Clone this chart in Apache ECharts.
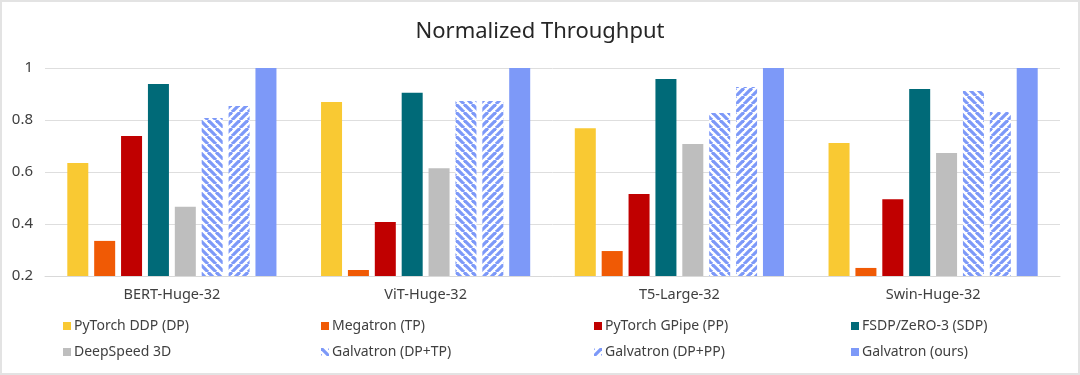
<!DOCTYPE html>
<html>
<head>
<meta charset="utf-8">
<script src="https://cdn.jsdelivr.net/npm/echarts@6/dist/echarts.min.js"></script>
<style>
  html, body { margin: 0; padding: 0; background: #fff; }
  #chart { width: 1080px; height: 375px; }
  #frame { position: absolute; left: 0; top: 0; width: 1076px; height: 371px; border: 2px solid #e3e3e3; pointer-events: none; }
</style>
</head>
<body>
<div id="chart"></div>
<div id="frame"></div>
<script>
// 数据
const categories = ['BERT-Huge-32', 'ViT-Huge-32', 'T5-Large-32', 'Swin-Huge-32'];
const seriesNames = ['PyTorch DDP (DP)', 'Megatron (TP)', 'PyTorch GPipe (PP)', 'FSDP/ZeRO-3 (SDP)',
  'DeepSpeed 3D', 'Galvatron (DP+TP)', 'Galvatron (DP+PP)', 'Galvatron (ours)'];
const ddp      = [0.635, 0.869, 0.768, 0.712];
const megatron = [0.335, 0.223, 0.296, 0.231];
const gpipe    = [0.738, 0.408, 0.515, 0.495];
const fsdp     = [0.938, 0.905, 0.958, 0.919];
const deepspeed= [0.466, 0.614, 0.708, 0.673];
const galvTP   = [0.808, 0.873, 0.827, 0.912];
const galvPP   = [0.854, 0.873, 0.927, 0.831];
const galvOurs = [1.0, 1.0, 1.0, 1.0];
const yTicks = [0.2, 0.4, 0.6, 0.8, 1];

const blue = '#7D99F8';

// 斜线填充
function makeHatch(dir) {
  let c = document.createElement('canvas');
  c.width = 8; c.height = 8;
  let ctx = c.getContext('2d');
  ctx.fillStyle = '#fff';
  ctx.fillRect(0, 0, 8, 8);
  ctx.strokeStyle = blue;
  ctx.lineWidth = 3.2;
  for (let o = -8; o <= 8; o += 8) {
    ctx.beginPath();
    if (dir === 'back') {
      ctx.moveTo(o, 0); ctx.lineTo(o + 8, 8);
    } else {
      ctx.moveTo(o, 8); ctx.lineTo(o + 8, 0);
    }
    ctx.stroke();
  }
  return c;
}

const colors = ['#F9C933', '#F05A05', '#C00000', '#006A78', '#BEBEBE',
  { image: makeHatch('back'), repeat: 'repeat' },
  { image: makeHatch('fwd'), repeat: 'repeat' },
  blue];
const allData = [ddp, megatron, gpipe, fsdp, deepspeed, galvTP, galvPP, galvOurs];

let chart = echarts.init(document.getElementById('chart'));

const font = 'Noto Sans';
const legendCols = [58, 316, 589, 846];
let legends = legendCols.map((x, i) => ({
  left: x,
  top: 314,
  orient: 'vertical',
  icon: 'rect',
  itemWidth: 8,
  itemHeight: 8,
  itemGap: 12,
  data: [seriesNames[i], seriesNames[i + 4]],
  textStyle: { fontFamily: font, fontSize: 14, color: '#404040', padding: [0, 0, 0, -2] }
}));

let series = allData.map((d, i) => ({
  name: seriesNames[i],
  type: 'bar',
  data: d,
  barWidth: 21,
  barGap: '28%',
  itemStyle: { color: colors[i] }
}));

let option = {
  animation: false,
  title: {
    text: 'Normalized Throughput',
    left: 'center',
    top: 16,
    textStyle: { fontFamily: font, fontSize: 22, fontWeight: 'normal', color: '#262626' }
  },
  legend: legends,
  grid: { left: 45, right: 20, top: 68, bottom: 99 },
  xAxis: {
    type: 'category',
    data: categories,
    axisTick: { show: false },
    axisLine: { lineStyle: { color: '#d9d9d9' } },
    axisLabel: { fontFamily: font, fontSize: 14.5, color: '#404040', margin: 11 }
  },
  yAxis: {
    type: 'value',
    min: yTicks[0],
    max: yTicks[yTicks.length - 1],
    interval: 0.2,
    axisLine: { show: false },
    axisTick: { show: false },
    splitLine: { lineStyle: { color: '#dedede' } },
    axisLabel: { fontFamily: font, fontSize: 15, color: '#404040', margin: 12 }
  },
  series: series
};

chart.setOption(option);
</script>
</body>
</html>
